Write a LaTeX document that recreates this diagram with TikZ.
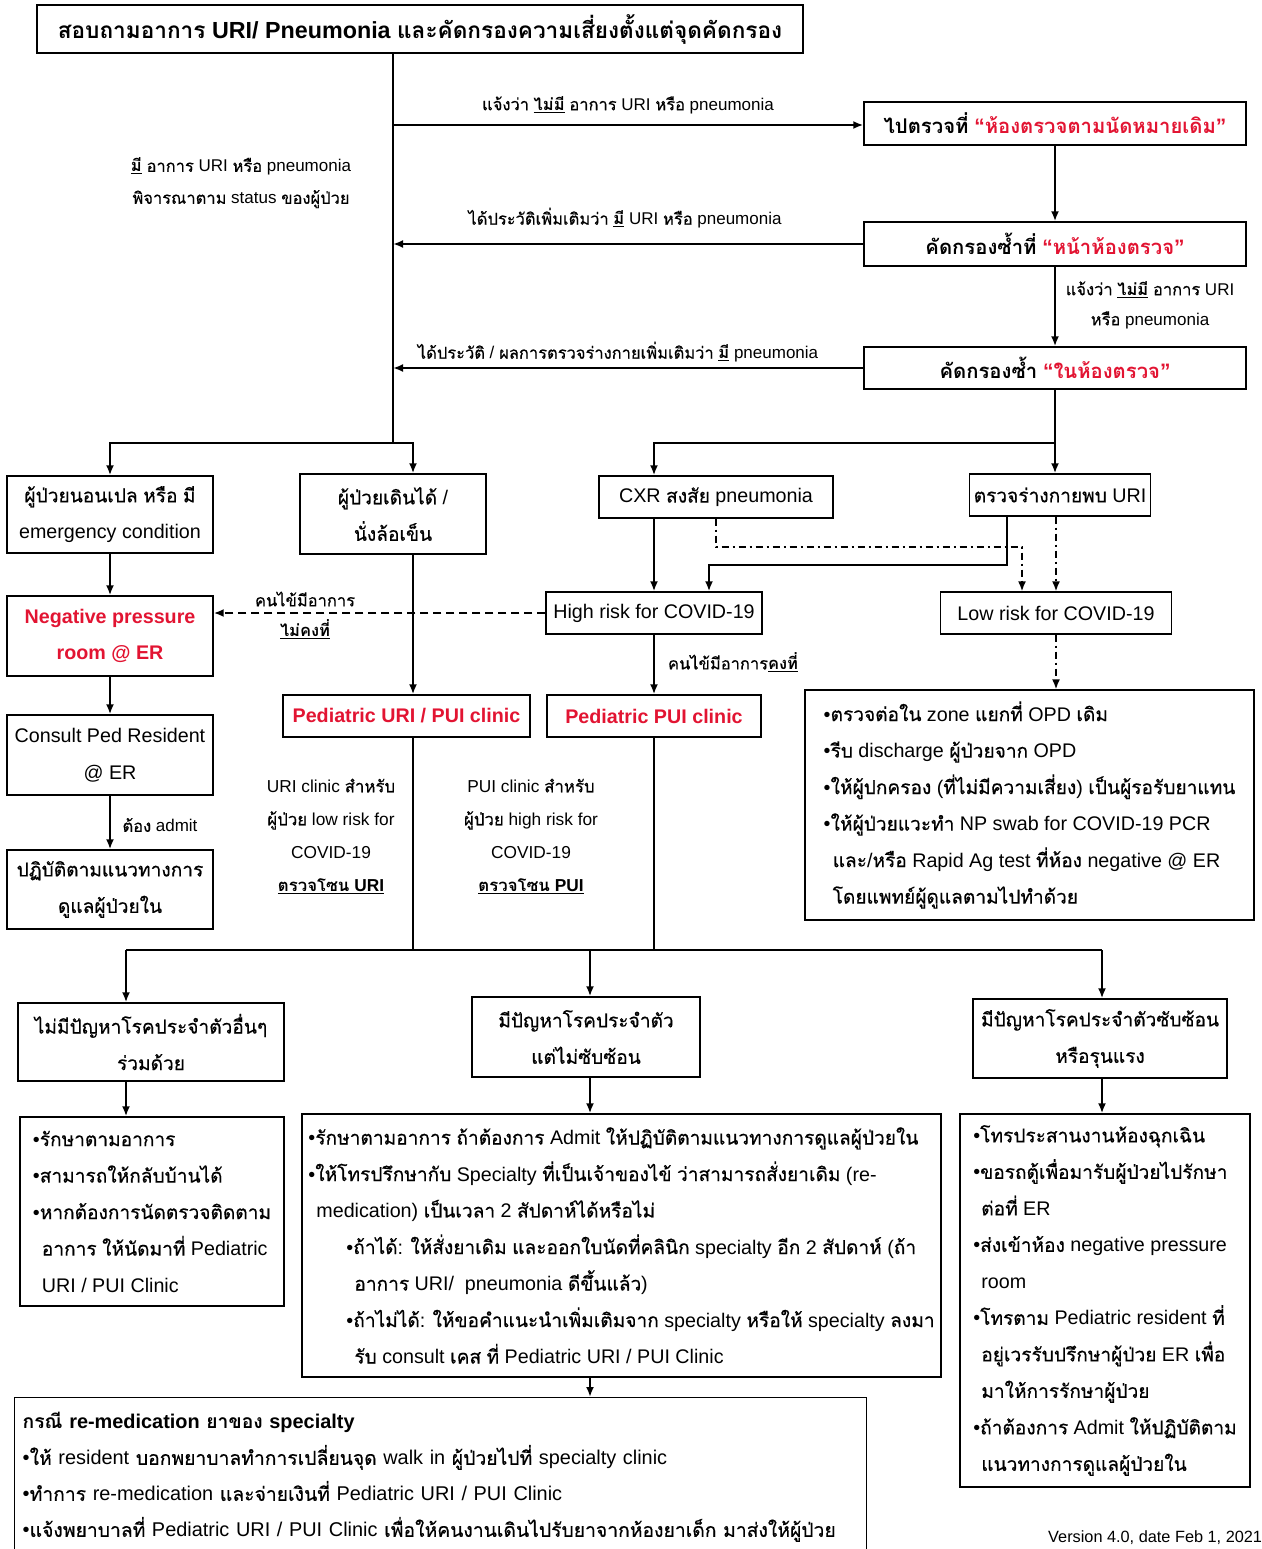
\documentclass[tikz,border=0pt]{standalone}
\usepackage{fontspec}
\usepackage{xcolor}
\usepackage{tikz}
\usetikzlibrary{arrows.meta}
\setmainfont{Liberation Sans}
\newfontfamily\thaifont[Script=Thai, Scale=0.97, UprightFeatures={FakeBold=0.5}]{Loma}
\definecolor{alertred}{RGB}{226,20,50}

% thai runs in Loma, the rest in Liberation Sans
\XeTeXinterchartokenstate=1
\newXeTeXintercharclass\thaiclass
\newcount\thaichar
\thaichar="0E00
\loop
  \XeTeXcharclass\thaichar=\thaiclass
  \advance\thaichar by 1
\ifnum\thaichar<"0E80 \repeat
\XeTeXinterchartoks 0 \thaiclass = {\begingroup\thaifont}
\XeTeXinterchartoks 4095 \thaiclass = {\begingroup\thaifont}
\XeTeXinterchartoks \thaiclass 0 = {\endgroup}
\XeTeXinterchartoks \thaiclass 4095 = {\endgroup}

\newcommand{\ulbf}[1]{\underline{\textbf{#1}}}
\newcommand{\redbf}[1]{\textcolor{alertred}{\textbf{#1}}}

\begin{document}
\begin{tikzpicture}[x=1pt, y=-1pt,
    box/.style={draw, line width=1.4pt, inner sep=4pt, align=center,
      font=\fontsize{19.7}{36.5}\selectfont},
    listbox/.style={box, align=left},
    topbox/.style={box, font=\fontsize{20.9}{28}\selectfont\bfseries},
    lbl/.style={align=center, inner sep=1pt, font=\fontsize{17}{30}\selectfont},
    arr/.style={line width=2pt, -{Latex[length=10pt,width=8pt]}},
    ln/.style={line width=2pt},
    dsh/.style={arr, dash pattern=on 8pt off 5pt},
    dd/.style={arr, line width=1.6pt, dash pattern=on 7pt off 4pt on 2pt off 4pt}]
        \useasboundingbox (0,0) rectangle (1261,1549);
        \clip (0,0) rectangle (1261,1549);

        % screening
        \node (1) at (420, 29) [topbox, minimum width=766pt, minimum height=48pt, font=\fontsize{23.3}{28}\selectfont\bfseries] {สอบถามอาการ URI/ Pneumonia และคัดกรองความเสี่ยงตั้งแต่จุดคัดกรอง};
        \node (2) at (1055, 123.5) [topbox, minimum width=382pt, minimum height=43pt] {ไปตรวจที่ \textcolor{alertred}{“ห้องตรวจตามนัดหมายเดิม”}};
        \node (3) at (1055, 244) [topbox, minimum width=382pt, minimum height=44pt] {คัดกรองซ้ำที่ \textcolor{alertred}{“หน้าห้องตรวจ”}};
        \node (4) at (1055, 368) [topbox, minimum width=382pt, minimum height=42pt] {คัดกรองซ้ำ \textcolor{alertred}{“ในห้องตรวจ”}};

        % second row
        \node (5) at (110, 514.5) [box, minimum width=206pt, minimum height=77pt] {ผู้ป่วยนอนเปล หรือ มี\\emergency condition};
        \node (6) at (393, 514) [box, minimum width=186pt, minimum height=80pt] {ผู้ป่วยเดินได้ /\\นั่งล้อเข็น};
        \node (7) at (716, 497) [box, minimum width=234pt, minimum height=42pt] {CXR สงสัย pneumonia};
        \node (8) at (1060, 495) [box, minimum width=180pt, minimum height=42pt] {ตรวจร่างกายพบ URI};
        \node (9) at (110, 636) [box, minimum width=206pt, minimum height=80pt] {\redbf{Negative pressure}\\\redbf{room @ ER}};
        \node (10) at (110, 755) [box, minimum width=206pt, minimum height=80pt] {Consult Ped Resident\\@ ER};
        \node (11) at (110, 889.5) [box, minimum width=206pt, minimum height=79pt] {ปฏิบัติตามแนวทางการ\\ดูแลผู้ป่วยใน};
        \node (12) at (654, 613) [box, minimum width=216pt, minimum height=42pt] {High risk for COVID-19};
        \node (13) at (1056, 613) [box, minimum width=231pt, minimum height=42pt] {Low risk for COVID-19};
        \node (14) at (406.5, 716) [box, minimum width=247pt, minimum height=42pt] {\redbf{Pediatric URI / PUI clinic}};
        \node (15) at (654, 716) [box, minimum width=214pt, minimum height=42pt] {\redbf{Pediatric PUI clinic}};
        \node (16) at (1029.5, 805) [listbox, minimum width=449pt, minimum height=230pt] {•ตรวจต่อใน zone แยกที่ OPD เดิม\\•รีบ discharge ผู้ป่วยจาก OPD\\•ให้ผู้ปกครอง (ที่ไม่มีความเสี่ยง) เป็นผู้รอรับยาแทน\\•ให้ผู้ป่วยแวะทำ NP swab for COVID-19 PCR\\\hspace*{9pt}และ/หรือ Rapid Ag test ที่ห้อง negative @ ER\\\hspace*{9pt}โดยแพทย์ผู้ดูแลตามไปทำด้วย};

        % comorbidity
        \node (17) at (151, 1042) [box, minimum width=266pt, minimum height=78pt] {ไม่มีปัญหาโรคประจำตัวอื่นๆ\\ร่วมด้วย};
        \node (18) at (586, 1037) [box, minimum width=228pt, minimum height=80pt] {มีปัญหาโรคประจำตัว\\แต่ไม่ซับซ้อน};
        \node (19) at (1100, 1038.5) [box, minimum width=254pt, minimum height=79pt] {มีปัญหาโรคประจำตัวซับซ้อน\\หรือรุนแรง};
        \node (20) at (152, 1211.5) [listbox, minimum width=264pt, minimum height=189pt] {•รักษาตามอาการ\\•สามารถให้กลับบ้านได้\\•หากต้องการนัดตรวจติดตาม\\\hspace*{9pt}อาการ ให้นัดมาที่ Pediatric\\\hspace*{9pt}URI / PUI Clinic};
        \node (21) at (621.5, 1245.5) [listbox, minimum width=639pt, minimum height=263pt] {•รักษาตามอาการ ถ้าต้องการ Admit ให้ปฏิบัติตามแนวทางการดูแลผู้ป่วยใน\\•ให้โทรปรึกษากับ Specialty ที่เป็นเจ้าของไข้ ว่าสามารถสั่งยาเดิม (re-\\\hspace*{8pt}medication) เป็นเวลา 2 สัปดาห์ได้หรือไม่\\\hspace*{38pt}•ถ้าได้: ให้สั่งยาเดิม และออกใบนัดที่คลินิก specialty อีก 2 สัปดาห์ (ถ้า\\\hspace*{46pt}อาการ URI/\ \ pneumonia ดีขึ้นแล้ว)\\\hspace*{38pt}•ถ้าไม่ได้: ให้ขอคำแนะนำเพิ่มเติมจาก specialty หรือให้ specialty ลงมา\\\hspace*{46pt}รับ consult เคส ที่ Pediatric URI / PUI Clinic};
        \node (22) at (1105, 1300.5) [listbox, minimum width=290pt, minimum height=373pt] {•โทรประสานงานห้องฉุกเฉิน\\•ขอรถตู้เพื่อมารับผู้ป่วยไปรักษา\\\hspace*{8pt}ต่อที่ ER\\•ส่งเข้าห้อง negative pressure\\\hspace*{8pt}room\\•โทรตาม Pediatric resident ที่\\\hspace*{8pt}อยู่เวรรับปรึกษาผู้ป่วย ER เพื่อ\\\hspace*{8pt}มาให้การรักษาผู้ป่วย\\•ถ้าต้องการ Admit ให้ปฏิบัติตาม\\\hspace*{8pt}แนวทางการดูแลผู้ป่วยใน};
        \node (23) at (14, 1397) [listbox, anchor=north west, text width=836pt, inner xsep=8pt, minimum height=159pt, font=\fontsize{19.9}{36}\selectfont] {\textbf{กรณี re-medication ยาของ specialty}\\•ให้ resident บอกพยาบาลทำการเปลี่ยนจุด walk in ผู้ป่วยไปที่ specialty clinic\\•ทำการ re-medication และจ่ายเงินที่ Pediatric URI / PUI Clinic\\•แจ้งพยาบาลที่ Pediatric URI / PUI Clinic เพื่อให้คนงานเดินไปรับยาจากห้องยาเด็ก มาส่งให้ผู้ป่วย};

        % labels
        \node (24) at (241, 183) [lbl, font=\fontsize{17}{32}\selectfont] {\ulbf{มี} อาการ URI หรือ pneumonia\\พิจารณาตาม status ของผู้ป่วย};
        \node (25) at (628, 105) [lbl] {แจ้งว่า \ulbf{ไม่มี} อาการ URI หรือ pneumonia};
        \node (26) at (625, 218) [lbl] {ได้ประวัติเพิ่มเติมว่า \ulbf{มี} URI หรือ pneumonia};
        \node (27) at (1150, 305) [lbl] {แจ้งว่า \ulbf{ไม่มี} อาการ URI\\หรือ pneumonia};
        \node (28) at (618, 352) [lbl] {ได้ประวัติ / ผลการตรวจร่างกายเพิ่มเติมว่า \ulbf{มี} pneumonia};
        \node (29) at (305, 615) [lbl] {คนไข้มีอาการ\\\ulbf{ไม่คงที่}};
        \node (30) at (733, 662) [lbl] {คนไข้มีอาการ\ulbf{คงที่}};
        \node (31) at (160, 825) [lbl] {ต้อง admit};
        \node (32) at (331, 836) [lbl, font=\fontsize{17.3}{33}\selectfont] {URI clinic สำหรับ\\ผู้ป่วย low risk for\\COVID-19\\\ulbf{ตรวจโซน URI}};
        \node (33) at (531, 836) [lbl, font=\fontsize{17.3}{33}\selectfont] {PUI clinic สำหรับ\\ผู้ป่วย high risk for\\COVID-19\\\ulbf{ตรวจโซน PUI}};
        \node (34) at (1048, 1538) [anchor=west, inner sep=0pt, font=\fontsize{16.3}{18}\selectfont] {Version 4.0, date Feb 1, 2021};

        \coordinate (t0) at (393, 53);
        \coordinate (t1) at (393, 125);
        \coordinate (t2) at (393, 245);
        \coordinate (t3) at (393, 372);
        \coordinate (t4) at (393, 443);
        \coordinate (r1) at (1055, 443);
        \coordinate (c1) at (1007, 565);
        \coordinate (c2) at (709, 565);
        \coordinate (d1) at (716, 547);
        \coordinate (d2) at (1022, 547);
        \coordinate (b1) at (413, 950);
        \coordinate (b2) at (654, 950);
        \coordinate (s1) at (126, 950);
        \coordinate (s2) at (590, 950);
        \coordinate (s3) at (1102, 950);

        \draw [ln] (t0) -- (t4);
        \draw [arr] (t1) -- (t1 -| 2.west);
        \draw [arr] (2) edge (3);
        \draw [arr] (3) edge (4);
        \draw [arr] (3.west) -- (3.west -| t2);
        \draw [arr] (4.west) -- (4.west -| t3);
        \draw [arr] (t4) -| (5.north);
        \draw [arr] (t4) -| (6.north -| b1);
        \draw [ln] (4.south) -- (r1);
        \draw [arr] (r1) -| (7.north -| 12.north);
        \draw [arr] (r1) -- (8.north -| r1);
        \draw [arr] (7.south -| 12.north) -- (12.north);
        \draw [arr] (8.south -| c1) -- (c1) -- (c2) -- (c2 |- 12.north);
        \draw [dd] (7.south) -- (d1) -- (d2) -- (d2 |- 13.north);
        \draw [dd] (8.south -| 13.north) -- (13.north);
        \draw [dd] (13.south) -- (13.south |- 16.north);
        \draw [dsh] (12.west) -- (12.west -| 9.east);
        \draw [arr] (12) edge (15);
        \draw [arr] (5) edge (9);
        \draw [arr] (9) edge (10);
        \draw [arr] (10) edge (11);
        \draw [arr] (6.south -| b1) -- (14.north -| b1);
        \draw [ln] (14.south -| b1) -- (b1);
        \draw [ln] (15.south) -- (b2);
        \draw [ln] (s1) -- (s3);
        \draw [arr] (s1) -- (17.north -| s1);
        \draw [arr] (s2) -- (18.north -| s2);
        \draw [arr] (s3) -- (19.north -| s3);
        \draw [arr] (17.south -| s1) -- (20.north -| s1);
        \draw [arr] (18.south -| s2) -- (21.north -| s2);
        \draw [arr] (19.south -| s3) -- (22.north -| s3);
        \draw [arr] (21.south -| s2) -- (23.north -| s2);
    \end{tikzpicture}
\end{document}
